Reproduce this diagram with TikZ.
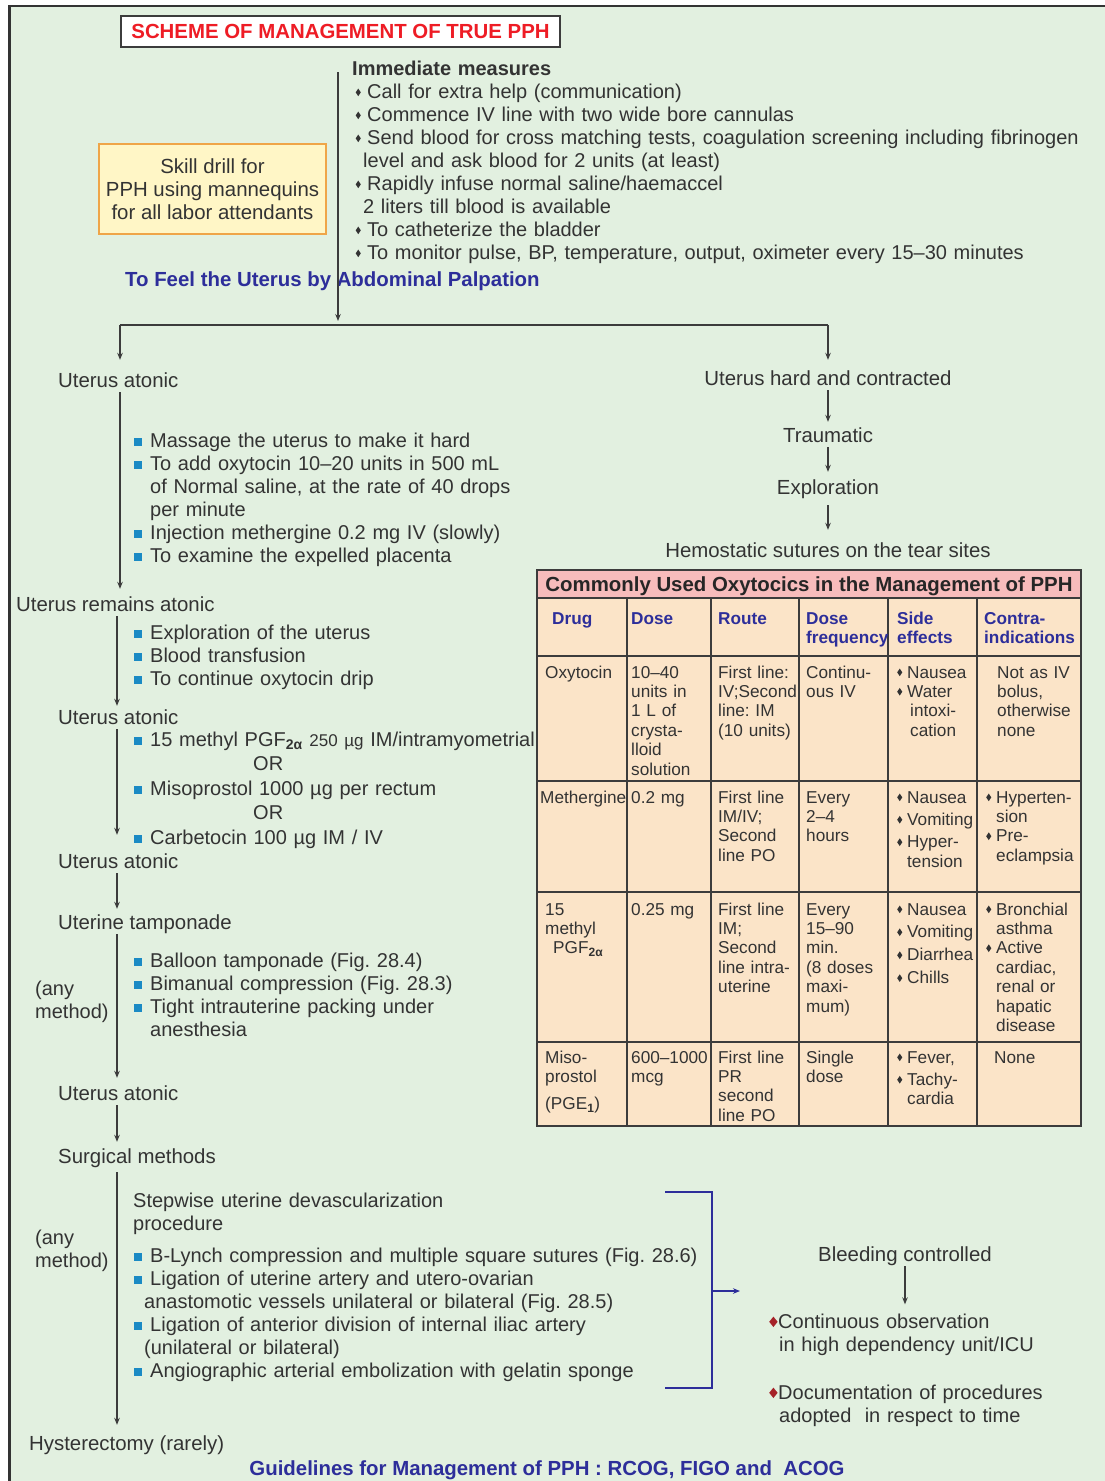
\documentclass[tikz,border=0pt]{standalone}
\usepackage{fontspec}
\setmainfont{Liberation Sans}
\usepackage{graphicx}
\usetikzlibrary{arrows.meta}
\frenchspacing
\definecolor{bgc}{HTML}{E2F0E0}
\definecolor{txtc}{HTML}{333333}
\definecolor{linec}{HTML}{3C3C3C}
\definecolor{navy}{HTML}{2D2E9A}
\definecolor{titlered}{HTML}{EE1C25}
\definecolor{sqblue}{HTML}{1A8AC4}
\definecolor{tabfill}{HTML}{FBE4C8}
\definecolor{tabhead}{HTML}{F7BCBC}
\definecolor{skillf}{HTML}{FFF6C6}
\definecolor{skillb}{HTML}{EFA548}
\definecolor{diamred}{HTML}{A52228}
\newcommand\sqb{\makebox[16pt][l]{\textcolor{sqblue}{\rule[1.5pt]{8pt}{8pt}}}}
\newcommand\sqi{\hspace*{16pt}}
\newcommand\sdm{\raisebox{1.8pt}{\scalebox{0.8}[1.2]{\rotatebox{45}{\rule{4.5pt}{4.5pt}}}}}
\newcommand\imb{\makebox[15pt][l]{\hspace*{3.5pt}\sdm}}
\newcommand\tdm{\makebox[10pt][l]{\sdm}}
\newcommand\rdm{\makebox[9pt][l]{\textcolor{diamred}{\raisebox{1pt}{\scalebox{0.85}[1.05]{\rotatebox{45}{\rule{7pt}{7pt}}}}}}}
\tikzset{
  basetx/.style={inner sep=0pt, text=txtc, font=\fontsize{20.4}{23}\selectfont},
  lbl/.style={basetx, anchor=base west, text height=15pt, text depth=5pt},
  clbl/.style={basetx, anchor=base, text height=15pt, text depth=5pt},
  blk/.style={basetx, font=\fontsize{20}{23}\selectfont, anchor=base west, align=left, text width=600pt},
  cell/.style={inner sep=0pt, text=txtc, font=\fontsize{17.2}{19.4}\selectfont, anchor=base west, align=left, text width=100pt},
  hcell/.style={cell, text=navy, font=\fontsize{17.2}{19.4}\selectfont\bfseries},
  arr/.style={draw=linec, line width=1.1pt, -{Stealth[length=7pt,width=5.5pt]}},
  conn/.style={draw=linec, line width=1.1pt},
  tline/.style={draw=linec, line width=1.3pt},
  bracket/.style={draw=navy, line width=2pt},
  barr/.style={draw=navy, line width=1.6pt, -{Stealth[length=7pt,width=5.5pt]}},
}
\begin{document}
\begin{tikzpicture}[x=1pt,y=-1pt]
\useasboundingbox (0,0) rectangle (1105,1481);
\fill[white] (0,0) rectangle (1105,1481);
\fill[bgc] (9,6) rectangle (1105,1481);
\draw[line width=2.5pt, draw=txtc] (9.5,1481) -- (9.5,6) -- (1105,6);

% title and header area
\node[basetx, draw=linec, fill=white, line width=1.5pt, minimum width=439pt, minimum height=31pt,
      text=titlered, font=\fontsize{20.4}{23}\selectfont\bfseries] (title) at (340.5,31.5) {SCHEME OF MANAGEMENT OF TRUE PPH};
\node[basetx, draw=skillb, fill=skillf, line width=1.5pt, minimum width=227pt, minimum height=90pt, align=center]
      (skill) at (212.5,189) {Skill drill for\\PPH using mannequins\\for all labor attendants};
\node[blk, text width=760pt] (im) at (352,75) {\textbf{Immediate measures}\\
\imb Call for extra help (communication)\\
\imb Commence IV line with two wide bore cannulas\\
\imb Send blood for cross matching tests, coagulation screening including fibrinogen\\
\hspace*{11pt}level and ask blood for 2 units (at least)\\
\imb Rapidly infuse normal saline/haemaccel\\
\hspace*{11pt}2 liters till blood is available\\
\imb To catheterize the bladder\\
\imb To monitor pulse, BP, temperature, output, oximeter every 15--30 minutes};
\node[basetx, anchor=base west, text=navy, font=\fontsize{20.4}{23}\selectfont\bfseries] (feel) at (125,286) {To Feel the Uterus by Abdominal Palpation};

\coordinate (top) at (338,72);
\coordinate (split) at (338,325);
\coordinate (cA) at (120,0);
\coordinate (cB) at (117,0);

% left column
\node[lbl] (ua1) at (58,387) {Uterus atonic};
\node[blk] (l1) at (134,447) {\sqb Massage the uterus to make it hard\\
\sqb To add oxytocin 10--20 units in 500 mL\\
\sqi of Normal saline, at the rate of 40 drops\\
\sqi per minute\\
\sqb Injection methergine 0.2 mg IV (slowly)\\
\sqb To examine the expelled placenta};
\node[lbl] (ura) at (16,611) {Uterus remains atonic};
\node[blk] (l2) at (134,639) {\sqb Exploration of the uterus\\
\sqb Blood transfusion\\
\sqb To continue oxytocin drip};
\node[lbl] (ua2) at (58,724) {Uterus atonic};
\node[blk, font=\fontsize{20}{24.5}\selectfont] (l3) at (134,746) {\sqb 15 methyl PGF\textsubscript{\bfseries 2α} {\fontsize{17}{20}\selectfont 250 µg} IM/intramyometrial\\
\hspace*{119pt}OR\\
\sqb Misoprostol 1000 µg per rectum\\
\hspace*{119pt}OR\\
\sqb Carbetocin 100 µg IM / IV};
\node[lbl] (ua3) at (58,868) {Uterus atonic};
\node[lbl] (ut) at (58,929) {Uterine tamponade};
\node[blk] (l4) at (134,967) {\sqb Balloon tamponade (Fig. 28.4)\\
\sqb Bimanual compression (Fig. 28.3)\\
\sqb Tight intrauterine packing under\\
\sqi anesthesia};
\node[blk, text width=100pt] (am1) at (35,995) {(any\\method)};
\node[lbl] (ua4) at (58,1100) {Uterus atonic};
\node[lbl] (sm) at (58,1163) {Surgical methods};
\node[blk] (sw) at (133,1207) {Stepwise uterine devascularization\\procedure};
\node[blk, text width=100pt] (am2) at (35,1244) {(any\\method)};
\node[blk] (l5) at (134,1262) {\sqb B-Lynch compression and multiple square sutures (Fig. 28.6)\\
\sqb Ligation of uterine artery and utero-ovarian\\
\hspace*{10pt}anastomotic vessels unilateral or bilateral (Fig. 28.5)\\
\sqb Ligation of anterior division of internal iliac artery\\
\hspace*{10pt}(unilateral or bilateral)\\
\sqb Angiographic arterial embolization with gelatin sponge};
\node[lbl] (hy) at (29,1450) {Hysterectomy (rarely)};

% right column
\node[clbl] (hc) at (828,385) {Uterus hard and contracted};
\node[clbl] (tr) at (828,442) {Traumatic};
\node[clbl] (ex) at (828,494) {Exploration};
\node[clbl] (hs) at (828,557) {Hemostatic sutures on the tear sites};

% connectors
\draw[arr, shorten >=4pt] (top) -- (split);
\draw[conn] (split -| cA) -- (split -| hc);
\draw[arr, shorten >=12pt] (split -| cA) -- (ua1.north -| cA);
\draw[arr, shorten >=10pt] (split -| hc) -- (hc.north);
\draw[arr, shorten >=5pt] (hc.south) -- (tr.north);
\draw[arr, shorten >=7pt] (tr.south) -- (ex.north);
\draw[arr, shorten <=6pt, shorten >=12pt] (ex.south) -- (hs.north);

\draw[arr, shorten >=7pt] (ua1.south -| cA) -- (ura.north -| cA);
\draw[arr, shorten >=3pt] (ura.south -| cB) -- (ua2.north -| cB);
\draw[arr, shorten >=18pt] (ua2.south -| cB) -- (ua3.north -| cB);
\draw[arr, shorten >=5pt] (ua3.south -| cB) -- (ut.north -| cB);
\draw[arr, shorten >=7pt] (ut.south -| cB) -- (ua4.north -| cB);
\draw[arr, shorten >=6pt] (ua4.south -| cB) -- (sm.north -| cB);
\draw[arr, shorten <=4pt, shorten >=10pt] (sm.south -| cB) -- (hy.north -| cB);

% table
\fill[tabhead] (537,570) rectangle (1081,598);
\fill[tabfill] (537,598) rectangle (1081,1126);
\draw[tline] (537,570) rectangle (1081,1126);
\foreach \yy in {598,656,781,892,1042} \draw[tline] (537,\yy) -- (1081,\yy);
\foreach \xx in {627,711,799,888,977} \draw[tline] (\xx,598) -- (\xx,1126);
\node[basetx, anchor=base, text=black!85, font=\fontsize{20.4}{23}\selectfont\bfseries] (ttl) at (809,591) {Commonly Used Oxytocics in the Management of PPH};
\node[hcell] (h1) at (552,624) {Drug};
\node[hcell] (h2) at (631,624) {Dose};
\node[hcell] (h3) at (718,624) {Route};
\node[hcell] (h4) at (806,624) {Dose\\frequency};
\node[hcell] (h5) at (897,624) {Side\\effects};
\node[hcell] (h6) at (984,624) {Contra-\\indications};

\node[cell] (a1) at (545,678) {Oxytocin};
\node[cell] (b1) at (631,678) {10--40\\units in\\1 L of\\crysta-\\lloid\\solution};
\node[cell] (c1) at (718,678) {First line:\\IV;Second\\line: IM\\(10 units)};
\node[cell] (d1) at (806,678) {Continu-\\ous IV};
\node[cell] (e1) at (897,678) {\tdm Nausea\\\tdm Water\\\hspace*{13pt}intoxi-\\\hspace*{13pt}cation};
\node[cell] (f1) at (997,678) {Not as IV\\bolus,\\otherwise\\none};

\node[cell] (a2) at (540,803) {Methergine};
\node[cell] (b2) at (631,803) {0.2 mg};
\node[cell] (c2) at (718,803) {First line\\IM/IV;\\Second\\line PO};
\node[cell] (d2) at (806,803) {Every\\2--4\\hours};
\node[cell] (e2) at (897,803) {\tdm Nausea\\[3pt]\tdm Vomiting\\[3pt]\tdm Hyper-\\\hspace*{10pt}tension};
\node[cell] (f2) at (986,803) {\tdm Hyperten-\\\hspace*{10pt}sion\\\tdm Pre-\\\hspace*{10pt}eclampsia};

\node[cell] (a3) at (545,915) {15\\methyl\\\hspace*{8pt}PGF\textsubscript{\bfseries 2α}};
\node[cell] (b3) at (631,915) {0.25 mg};
\node[cell] (c3) at (718,915) {First line\\IM;\\Second\\line intra-\\uterine};
\node[cell] (d3) at (806,915) {Every\\15--90\\min.\\(8 doses\\maxi-\\mum)};
\node[cell] (e3) at (897,915) {\tdm Nausea\\[3.5pt]\tdm Vomiting\\[3.5pt]\tdm Diarrhea\\[3.5pt]\tdm Chills};
\node[cell] (f3) at (986,915) {\tdm Bronchial\\\hspace*{10pt}asthma\\\tdm Active\\\hspace*{10pt}cardiac,\\\hspace*{10pt}renal or\\\hspace*{10pt}hapatic\\\hspace*{10pt}disease};

\node[cell] (a4) at (545,1063) {Miso-\\prostol\\[8pt](PGE\textsubscript{\bfseries 1})};
\node[cell] (b4) at (631,1063) {600--1000\\mcg};
\node[cell] (c4) at (718,1063) {First line\\PR\\second\\line PO};
\node[cell] (d4) at (806,1063) {Single\\dose};
\node[cell] (e4) at (897,1063) {\tdm Fever,\\[3pt]\tdm Tachy-\\\hspace*{10pt}cardia};
\node[cell] (f4) at (994,1063) {None};

% bottom right
\node[clbl] (bc) at (905,1261) {Bleeding controlled};
\node[blk] (co) at (769,1328) {\rdm Continuous observation\\\hspace*{10pt}in high dependency unit/ICU};
\node[blk] (doc) at (769,1399) {\rdm Documentation of procedures\\\hspace*{10pt}adopted\ \ in respect to time};
\draw[arr, shorten >=9pt] (bc.south) -- (bc.south |- co.north);

\coordinate (bt) at (665,1192);
\coordinate (bb) at (665,1388);
\coordinate (bx) at (712,0);
\coordinate (bm) at (712,1291);
\coordinate (bend) at (740,1291);
\draw[bracket] (bt) -- (bt -| bx) -- (bb -| bx) -- (bb);
\draw[barr] (bm) -- (bend);

\node[basetx, anchor=base, text=navy, font=\fontsize{20.4}{23}\selectfont\bfseries] (gl) at (547,1475) {Guidelines for Management of PPH : RCOG, FIGO and\ \ ACOG};
\end{tikzpicture}
\end{document}
